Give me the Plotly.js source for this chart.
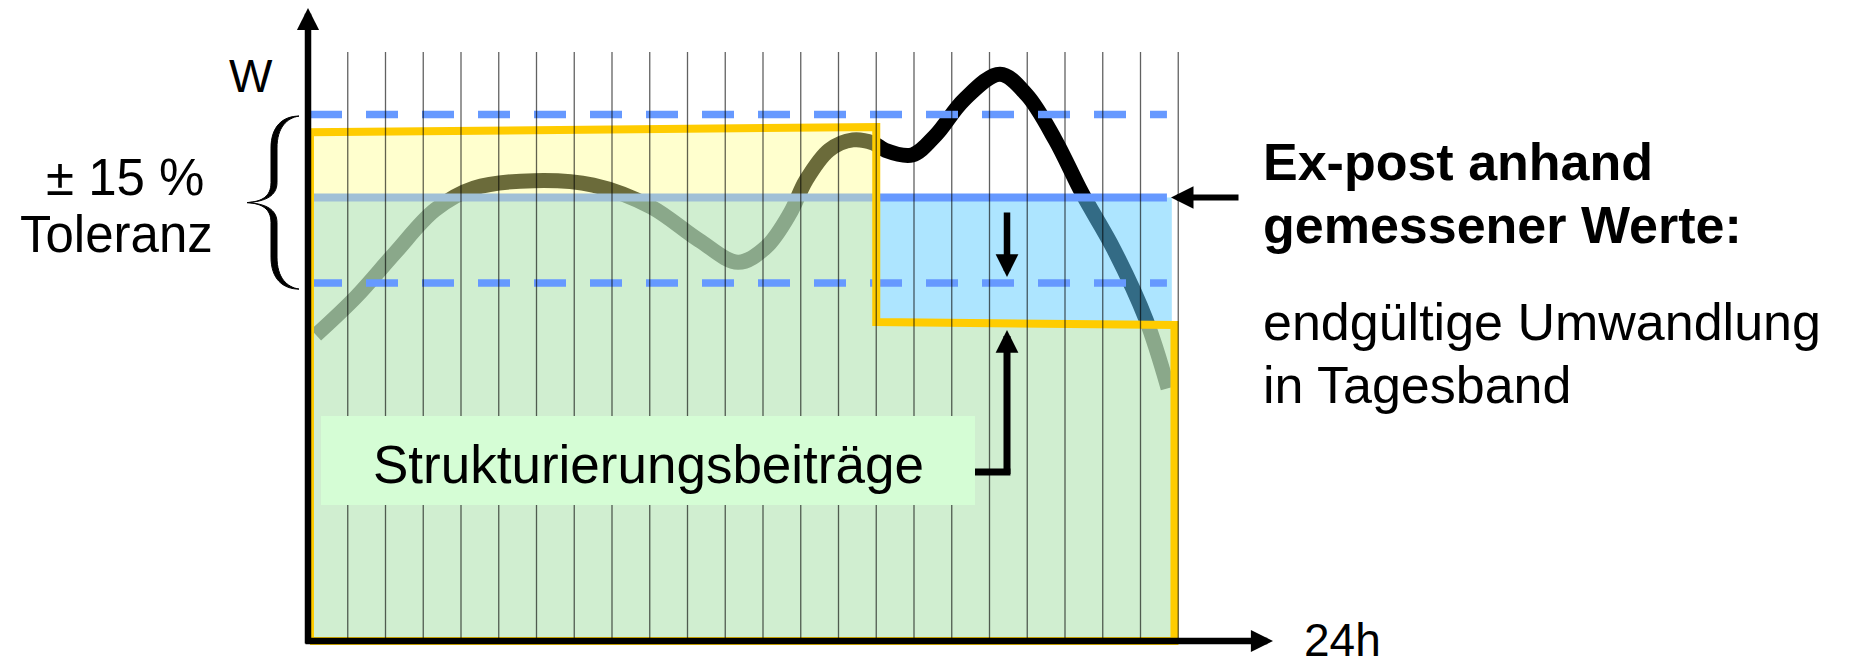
<!DOCTYPE html>
<html><head><meta charset="utf-8">
<script src="https://cdn.plot.ly/plotly-3.0.1.min.js"></script>
<style>html,body{margin:0;padding:0;background:#fff}</style>
</head><body><div id="chart" style="width:1852px;height:665px"></div>
<script>
// ---------- data ----------
const hours = [0.16,1.22,2.25,3.31,4.34,5.93,7.50,9.03,10.30,11.34,12.08,12.72,13.14,13.75,14.38,14.91,15.23,15.95,16.58,17.32,18.28,18.99,19.74,20.45,21.30,22.15,22.73];
const load  = [69.0,77.6,87.5,97.2,102.1,103.8,102.8,97.9,90.4,85.4,88.8,96.5,103.9,110.7,113.0,112.3,110.7,109.6,114.1,122.0,127.8,123.1,113.0,101.0,88.2,72.4,57.0];
const gridHours = [1,2,3,4,5,6,7,8,9,10,11,12,13,14,15,16,17,18,19,20,21,22,23];
const gridTop = 132.8;
const bandValue = 100;          // Tagesband (ex-post)
const tolUpper = 118.7;         // +15 %
const tolLower = 80.7;          // -15 %
const dayStart = 0, stepHour = 15, dayEnd = 22.9, lineEnd = 22.7, blueEnd = 22.83;
const forecastLeft = 114.7, forecastRight = 115.9;   // yellow top edge
const bandLowLeft = 71.9, bandLowRight = 71.25;      // yellow lower step
const labels = {
  w: 'W', tol1: '± 15 %', tol2: 'Toleranz',
  r1: 'Ex-post anhand', r2: 'gemessener Werte:',
  r3: 'endgültige Umwandlung', r4: 'in Tagesband',
  box: 'Strukturierungsbeiträge', x: '24h'
};

// ---------- pixel calibration of the axes ----------
const W = 1852, H = 665;
const X0 = 310, XS = 37.75, Y0 = 641, YS = 4.435;
const dx = px => (px - X0) / XS;
const dy = py => (Y0 - py) / YS;
const py = v => Y0 - v * YS;

const FONT = 'Liberation Sans, Arial, Helvetica, sans-serif';
const traces = [];

// load curve (under the translucent areas)
traces.push({x: hours, y: load, mode: 'lines', line: {color: '#000', width: 15, shape: 'spline', smoothing: 1}, hoverinfo: 'skip'});

// translucent areas
traces.push({x: [dayStart, stepHour, stepHour, dayStart], y: [forecastLeft, forecastRight, bandValue, bandValue],
  fill: 'toself', fillcolor: 'rgba(255,255,138,0.42)', mode: 'lines', line: {width: 0}, hoverinfo: 'skip'});
traces.push({x: [dayStart, dayStart, stepHour, stepHour, dayEnd, dayEnd], y: [0, bandValue, bandValue, bandLowLeft, bandLowRight, 0],
  fill: 'toself', fillcolor: 'rgba(190,232,190,0.725)', mode: 'lines', line: {width: 0}, hoverinfo: 'skip'});
traces.push({x: [stepHour, blueEnd, blueEnd, stepHour], y: [bandValue, bandValue, bandLowRight, bandLowLeft],
  fill: 'toself', fillcolor: 'rgba(98,206,255,0.52)', mode: 'lines', line: {width: 0}, hoverinfo: 'skip'});

// band line
traces.push({x: [dayStart, stepHour], y: [bandValue, bandValue], mode: 'lines', line: {color: '#A0C0D6', width: 8}, hoverinfo: 'skip'});
traces.push({x: [stepHour, lineEnd], y: [bandValue, bandValue], mode: 'lines', line: {color: '#6699FF', width: 8}, hoverinfo: 'skip'});

// tolerance lines
[tolUpper, tolLower].forEach(v => traces.push({x: [dayStart, lineEnd], y: [v, v], mode: 'lines',
  line: {color: '#6699FF', width: 7.5, dash: '32px,24px'}, hoverinfo: 'skip'}));

// yellow outline
traces.push({x: [dayStart, dayStart, stepHour, stepHour, dayEnd, dayEnd, dayStart],
  y: [0, forecastLeft, forecastRight, bandLowLeft, bandLowRight, 0, 0],
  mode: 'lines', line: {color: '#FFCC00', width: 8}, hoverinfo: 'skip'});

// hourly grid
const gx = [], gy = [];
gridHours.forEach(h => { gx.push(h, h, null); gy.push(0, gridTop, null); });
traces.push({x: gx, y: gy, mode: 'lines', line: {color: 'rgba(0,0,0,0.62)', width: 1.3}, hoverinfo: 'skip'});

// ---------- brace ----------
function bracePath() {
  const top = py(tolUpper) + 1.5, bot = py(tolLower) + 6, m = (top + bot) / 2;
  const tip = 299, ao = 271, ai = 277, cx = 247;
  const P = (x, y) => dx(x).toFixed(4) + ',' + dy(y).toFixed(4);
  return 'M' + P(tip, top) +
    ' C' + P(283, top) + ' ' + P(ao, top + 10) + ' ' + P(ao, top + 32) +
    ' L' + P(ao, m - 20) +
    ' C' + P(ao, m - 6) + ' ' + P(262, m - 1) + ' ' + P(cx, m) +
    ' C' + P(262, m + 1) + ' ' + P(ao, m + 6) + ' ' + P(ao, m + 20) +
    ' L' + P(ao, bot - 32) +
    ' C' + P(ao, bot - 10) + ' ' + P(283, bot) + ' ' + P(tip, bot) +
    ' C' + P(287, bot - 2) + ' ' + P(ai, bot - 11) + ' ' + P(ai, bot - 32) +
    ' L' + P(ai, m + 20) +
    ' C' + P(ai, m + 7) + ' ' + P(266, m + 1) + ' ' + P(cx, m) +
    ' C' + P(266, m - 1) + ' ' + P(ai, m - 7) + ' ' + P(ai, m - 20) +
    ' L' + P(ai, top + 32) +
    ' C' + P(ai, top + 11) + ' ' + P(287, top + 2) + ' ' + P(tip, top) + ' Z';
}

const boxX0 = dx(321), boxX1 = dx(975), boxY0 = dy(505), boxY1 = dy(416);
const elbowY = dy(472), arrowX = dx(1007);

const shapes = [
  {type: 'rect', xref: 'x', yref: 'y', x0: boxX0, x1: boxX1, y0: boxY0, y1: boxY1, fillcolor: '#D5FDD5', line: {width: 0}, layer: 'above'},
  {type: 'path', xref: 'x', yref: 'y', path: bracePath(), fillcolor: '#000', line: {color: '#000', width: 1}, layer: 'above'},
  {type: 'line', xref: 'x', yref: 'y', x0: boxX1, x1: arrowX + 0.09, y0: elbowY, y1: elbowY, line: {color: '#000', width: 7}, layer: 'above'}
];

function arrow(xTip, yTip, xTail, yTail, w, s) {
  return {x: xTip, y: yTip, ax: xTail, ay: yTail, xref: 'x', yref: 'y', axref: 'x', ayref: 'y',
    text: '', showarrow: true, arrowhead: 2, arrowsize: s, arrowwidth: w, arrowcolor: '#000', standoff: 0};
}
function label(x, y, text, size, anchor) {
  return {x: x, y: y, xref: 'x', yref: 'y', text: text, showarrow: false, xanchor: anchor || 'center', yanchor: 'middle',
    font: {family: FONT, size: size, color: '#000'}};
}

const annotations = [
  arrow(dx(308), dy(8), dx(308), dy(645), 6.5, 0.68),
  arrow(dx(1273), 0, dx(304), 0, 6.5, 0.68),
  arrow(dx(1171), bandValue, dx(1240), bandValue, 6, 0.75),
  arrow(arrowX, dy(277), arrowX, dy(211), 6.5, 0.7),
  arrow(arrowX, dy(330), arrowX, elbowY - 0.8, 7, 0.65),
  label(dx(251), dy(76), labels.w, 46),
  label(dx(124.5), dy(177), labels.tol1, 51),
  label(dx(116.5), dy(234), labels.tol2, 51),
  label(dx(1261), dy(162), '<b>' + labels.r1 + '</b>', 52, 'left'),
  label(dx(1261), dy(225), '<b>' + labels.r2 + '</b>', 52, 'left'),
  label(dx(1261), dy(322), labels.r3, 52, 'left'),
  label(dx(1261), dy(385), labels.r4, 52, 'left'),
  label(dx(648), dy(464.5), labels.box, 53),
  label(dx(1342.5), dy(640), labels.x, 46)
];

const layout = {
  width: W, height: H, margin: {l: 0, r: 0, t: 0, b: 0},
  paper_bgcolor: '#fff', plot_bgcolor: '#fff', showlegend: false,
  xaxis: {range: [dx(0), dx(W)], visible: false, fixedrange: true},
  yaxis: {range: [dy(H), dy(0)], visible: false, fixedrange: true},
  shapes: shapes, annotations: annotations,
  font: {family: FONT}
};
Plotly.newPlot('chart', traces, layout, {staticPlot: true, displayModeBar: false});
</script></body></html>
